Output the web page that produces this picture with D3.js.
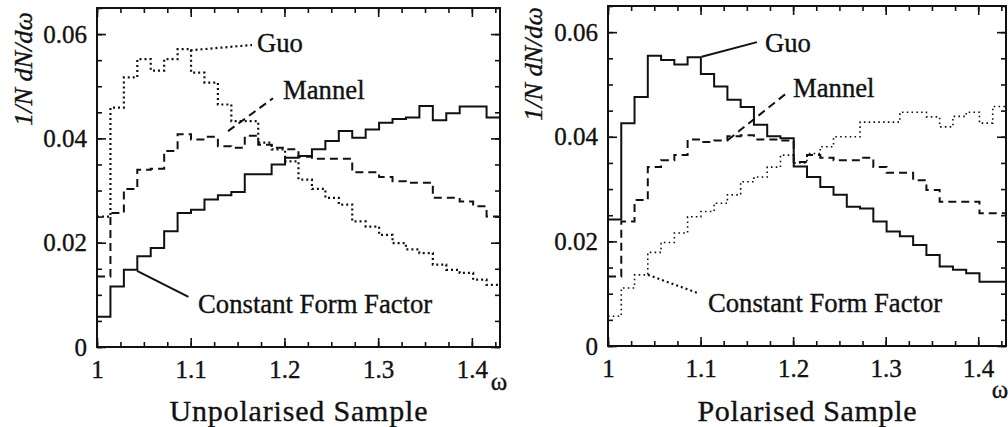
<!DOCTYPE html>
<html>
<head>
<meta charset="utf-8">
<script src="https://cdn.jsdelivr.net/npm/d3@7"></script>
<style>
  body { margin: 0; background: #fff; }
  svg { display: block; }
  svg text { font-family: "Liberation Serif", "Times New Roman", serif; fill: #111; stroke: #111; stroke-width: 0.35px; }
</style>
</head>
<body>
<svg width="1008" height="427"></svg>
<script>
(function (d3) {
  'use strict';

  // histogram binning: 30 bins in omega from 1 to 1.43
  const omegaMin = 1;
  const omegaMax = 1.43;
  const binCount = 30;
  const yMax = 0.065;

  const xTicks = [1, 1.1, 1.2, 1.3, 1.4];
  const yTicks = [0, 0.02, 0.04, 0.06];

  // Unpolarised sample
  const unpolConstant = [0.0058, 0.0116, 0.0148, 0.0174, 0.0190, 0.0222, 0.0257, 0.0263, 0.0283, 0.0291,
    0.0297, 0.0331, 0.0331, 0.0350, 0.0363, 0.0366, 0.0379, 0.0395, 0.0414, 0.0401,
    0.0417, 0.0430, 0.0437, 0.0440, 0.0462, 0.0435, 0.0448, 0.0461, 0.0461, 0.0440];
  const unpolGuo = [0.0250, 0.0459, 0.0517, 0.0552, 0.0530, 0.0552, 0.0571, 0.0526, 0.0507, 0.0465,
    0.0433, 0.0433, 0.0392, 0.0379, 0.0356, 0.0321, 0.0303, 0.0286, 0.0273, 0.0241,
    0.0231, 0.0215, 0.0199, 0.0187, 0.0180, 0.0158, 0.0148, 0.0142, 0.0129, 0.0119];
  const unpolMannel = [0.0135, 0.0257, 0.0303, 0.0340, 0.0342, 0.0376, 0.0408, 0.0398, 0.0403, 0.0385,
    0.0382, 0.0405, 0.0388, 0.0382, 0.0379, 0.0365, 0.0361, 0.0361, 0.0361, 0.0335,
    0.0335, 0.0326, 0.0318, 0.0315, 0.0315, 0.0286, 0.0286, 0.0279, 0.0270, 0.0250];

  // Polarised sample
  const polGuo = [0.0242, 0.0426, 0.0476, 0.0555, 0.0547, 0.0538, 0.0552, 0.0520, 0.0496, 0.0471,
    0.0457, 0.0423, 0.0401, 0.0397, 0.0343, 0.0323, 0.0304, 0.0289, 0.0266, 0.0263,
    0.0238, 0.0219, 0.0210, 0.0193, 0.0174, 0.0152, 0.0146, 0.0139, 0.0123, 0.0123];
  const polMannel = [0.0133, 0.0238, 0.0279, 0.0342, 0.0355, 0.0365, 0.0395, 0.0390, 0.0393, 0.0401,
    0.0403, 0.0395, 0.0395, 0.0393, 0.0352, 0.0365, 0.0360, 0.0355, 0.0355, 0.0360,
    0.0342, 0.0331, 0.0331, 0.0317, 0.0298, 0.0276, 0.0276, 0.0276, 0.0254, 0.0254];
  const polConstant = [0.0057, 0.0111, 0.0136, 0.0179, 0.0198, 0.0216, 0.0247, 0.0257, 0.0273, 0.0289,
    0.0314, 0.0323, 0.0342, 0.0365, 0.0350, 0.0368, 0.0381, 0.0400, 0.0400, 0.0428,
    0.0428, 0.0428, 0.0447, 0.0447, 0.0438, 0.0419, 0.0439, 0.0447, 0.0426, 0.0458];

  const serif = '"Liberation Serif", "Times New Roman", serif';

  const lineStyles = {
    solid: { width: 2, dash: null },
    dashed: { width: 2, dash: '8,5' },
    dotted: { width: 2.2, dash: '2,3' },
    fineDotted: { width: 1.6, dash: '1.6,3.2' }
  };

  const binWidth = (omegaMax - omegaMin) / binCount;
  const histPoints = values => {
    const pts = values.map((v, i) => [omegaMin + i * binWidth, v]);
    pts.push([omegaMax, values[values.length - 1]]);
    return pts;
  };

  const fmtX = d => d === 1 ? '1' : d3.format('.1f')(d);
  const fmtY = d => d === 0 ? '0' : d3.format('.2f')(d);

  const applyStyle = (sel, style) => {
    const s = lineStyles[style];
    sel.attr('fill', 'none')
      .attr('stroke', '#111')
      .attr('stroke-width', s.width)
      .attr('stroke-dasharray', s.dash);
  };

  const histPanel = (selection, props) => {
    const {
      left, right, top, bottom,
      series, notes, title, titleLength,
      yLabelPos, omegaPos
    } = props;

    const xScale = d3.scaleLinear().domain([omegaMin, omegaMax]).range([left, right]);
    const yScale = d3.scaleLinear().domain([0, yMax]).range([bottom, top]);

    const g = selection.append('g').attr('font-family', serif);

    const styleAxis = axisG => {
      axisG.attr('font-family', serif).attr('font-size', 25);
      axisG.select('.domain').remove();
      axisG.selectAll('.tick line').attr('stroke', '#111').attr('stroke-width', 1.6);
      axisG.selectAll('.tick text').attr('fill', '#111');
    };

    const minorX = d3.range(0, 18).map(i => omegaMin + i * 0.025);
    const minorY = d3.range(0, 14).map(i => i * 0.005);

    // bottom
    g.append('g').attr('transform', `translate(0,${bottom})`)
      .call(d3.axisBottom(xScale).tickValues(xTicks).tickSize(-9).tickPadding(13).tickFormat(fmtX))
      .call(styleAxis);
    g.append('g').attr('transform', `translate(0,${bottom})`)
      .call(d3.axisBottom(xScale).tickValues(minorX).tickSize(-5).tickFormat(''))
      .call(styleAxis);
    // top
    g.append('g').attr('transform', `translate(0,${top})`)
      .call(d3.axisTop(xScale).tickValues(xTicks).tickSize(-9).tickFormat(''))
      .call(styleAxis);
    g.append('g').attr('transform', `translate(0,${top})`)
      .call(d3.axisTop(xScale).tickValues(minorX).tickSize(-5).tickFormat(''))
      .call(styleAxis);
    // left
    g.append('g').attr('transform', `translate(${left},0)`)
      .call(d3.axisLeft(yScale).tickValues(yTicks).tickSize(-9).tickPadding(10).tickFormat(fmtY))
      .call(styleAxis);
    g.append('g').attr('transform', `translate(${left},0)`)
      .call(d3.axisLeft(yScale).tickValues(minorY).tickSize(-5).tickFormat(''))
      .call(styleAxis);
    // right
    g.append('g').attr('transform', `translate(${right},0)`)
      .call(d3.axisRight(yScale).tickValues(yTicks).tickSize(-9).tickFormat(''))
      .call(styleAxis);
    g.append('g').attr('transform', `translate(${right},0)`)
      .call(d3.axisRight(yScale).tickValues(minorY).tickSize(-5).tickFormat(''))
      .call(styleAxis);

    g.append('rect')
      .attr('x', left).attr('y', top)
      .attr('width', right - left).attr('height', bottom - top)
      .attr('fill', 'none').attr('stroke', '#111').attr('stroke-width', 2);

    const line = d3.line()
      .x(d => xScale(d[0]))
      .y(d => yScale(d[1]));

    series.forEach(s => {
      g.append('path')
        .attr('d', line.curve(d3.curveStepAfter)(histPoints(s.values)))
        .call(applyStyle, s.style);
    });

    notes.forEach(n => {
      g.append('path')
        .attr('d', line.curve(d3.curveLinear)(n.pointer))
        .call(applyStyle, n.style);
      g.append('text')
        .attr('x', xScale(n.at[0]))
        .attr('y', yScale(n.at[1]))
        .attr('font-size', 26.7)
        .text(n.text);
    });

    g.append('text')
      .attr('x', (left + right) / 2)
      .attr('y', 421)
      .attr('text-anchor', 'middle')
      .attr('textLength', titleLength)
      .attr('lengthAdjust', 'spacing')
      .attr('font-size', 30)
      .text(title);

    g.append('text')
      .attr('x', omegaPos[0])
      .attr('y', omegaPos[1])
      .attr('text-anchor', 'middle')
      .attr('font-size', 25)
      .text('ω');

    g.append('text')
      .attr('transform', `translate(${yLabelPos[0]},${yLabelPos[1]}) rotate(-90)`)
      .attr('text-anchor', 'middle')
      .attr('dy', '0.35em')
      .attr('textLength', 114)
      .attr('lengthAdjust', 'spacingAndGlyphs')
      .attr('font-size', 25)
      .attr('font-style', 'italic')
      .text('1/N dN/dω');
  };

  const svg = d3.select('svg');

  svg.call(histPanel, {
    left: 97, right: 500, top: 8, bottom: 347,
    title: 'Unpolarised Sample', titleLength: 258,
    yLabelPos: [23, 69], omegaPos: [499, 390],
    series: [
      { values: unpolConstant, style: 'solid' },
      { values: unpolGuo, style: 'dotted' },
      { values: unpolMannel, style: 'dashed' }
    ],
    notes: [
      { text: 'Guo', at: [1.1707, 0.0566], style: 'dotted',
        pointer: [[1.0998, 0.0569], [1.1654, 0.0579]] },
      { text: 'Mannel', at: [1.1985, 0.0475], style: 'dashed',
        pointer: [[1.1398, 0.0414], [1.1878, 0.0477]] },
      { text: 'Constant Form Factor', at: [1.1078, 0.0065], style: 'solid',
        pointer: [[1.0427, 0.0146], [1.0976, 0.0096]] }
    ]
  });

  svg.call(histPanel, {
    left: 608, right: 1006, top: 6, bottom: 346,
    title: 'Polarised Sample', titleLength: 219,
    yLabelPos: [533, 64], omegaPos: [1000, 398],
    series: [
      { values: polGuo, style: 'solid' },
      { values: polMannel, style: 'dashed' },
      { values: polConstant, style: 'fineDotted' }
    ],
    notes: [
      { text: 'Guo', at: [1.1696, 0.0562], style: 'solid',
        pointer: [[1.1012, 0.0553], [1.161, 0.0581]] },
      { text: 'Mannel', at: [1.1999, 0.0476], style: 'dashed',
        pointer: [[1.1296, 0.0394], [1.1934, 0.0484]] },
      { text: 'Constant Form Factor', at: [1.108, 0.0065], style: 'dotted',
        pointer: [[1.0432, 0.0136], [1.0972, 0.0101]] }
    ]
  });

}(d3));
</script>
</body>
</html>
